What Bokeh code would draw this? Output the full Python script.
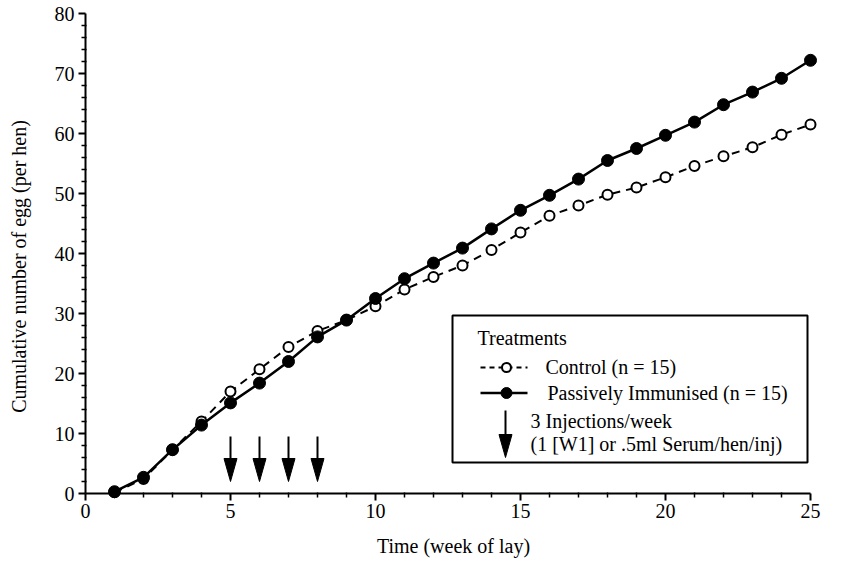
import math
from bokeh.plotting import figure
from bokeh.models import Range1d, BoxAnnotation
from bokeh.core.properties import value
from bokeh.embed import file_html
from bokeh.resources import INLINE

# ---------------- data ----------------
weeks = list(range(1, 26))
control = [0.2, 2.4, 7.3, 12.0, 17.0, 20.7, 24.4, 27.1, 28.9, 31.2, 34.0, 36.1, 38.0,
           40.6, 43.5, 46.3, 48.0, 49.8, 51.0, 52.7, 54.6, 56.2, 57.7, 59.8, 61.5]
immunised = [0.3, 2.7, 7.3, 11.4, 15.1, 18.4, 22.0, 26.1, 28.9, 32.5, 35.8, 38.4, 40.9,
             44.1, 47.2, 49.7, 52.4, 55.5, 57.5, 59.7, 61.9, 64.8, 66.9, 69.2, 72.2]
injection_weeks = [5, 6, 7, 8]
x_ticks = [0, 5, 10, 15, 20, 25]
y_ticks = [0, 10, 20, 30, 40, 50, 60, 70, 80]
x_minor = [w for w in range(0, 26) if w not in x_ticks]
y_minor = [v for v in range(0, 81, 2) if v not in y_ticks]
x_tick_labels = [str(t) for t in x_ticks]
y_tick_labels = [str(t) for t in y_ticks]

x_title = "Time (week of lay)"
y_title = "Cumulative number of egg (per hen)"
legend_title = "Treatments"
control_label = "Control (n = 15)"
immunised_label = "Passively Immunised (n = 15)"
inj_line1 = "3 Injections/week"
inj_line2 = "(1 [W1] or .5ml Serum/hen/inj)"

FONT = value("Liberation Serif")
FS = value("20px")

W, H = 843, 561
ORIGIN_X, ORIGIN_Y = 85, 493          # pixel position of the (0, 0) corner
PX_X = (810 - ORIGIN_X) / 25.0        # pixels per week
PX_Y = (ORIGIN_Y - 13) / 80.0         # pixels per egg

p = figure(width=W, height=H, output_backend="svg", toolbar_location=None,
           x_range=Range1d(-ORIGIN_X / PX_X, (W - ORIGIN_X) / PX_X),
           y_range=Range1d(-(H - ORIGIN_Y) / PX_Y, ORIGIN_Y / PX_Y),
           min_border=0)
p.axis.visible = False
p.grid.visible = False
p.outline_line_color = None
p.background_fill_color = "white"
p.border_fill_color = "white"

dx = 1.0 / PX_X   # one pixel in week units
dy = 1.0 / PX_Y   # one pixel in egg units


def X(px):  # layout pixel -> data x
    return (px - ORIGIN_X) / PX_X


def Y(py):  # layout pixel -> data y
    return (ORIGIN_Y - py) / PX_Y


# ---------------- axes drawn by hand ----------------
x_lo, x_hi = x_ticks[0], x_ticks[-1]
y_lo, y_hi = y_ticks[0], y_ticks[-1]
p.segment(x0=[x_lo, x_lo], y0=[y_lo, y_lo], x1=[x_hi, x_lo], y1=[y_lo, y_hi],
          line_color="black", line_width=2)
p.segment(x0=x_ticks, y0=[y_lo] * len(x_ticks), x1=x_ticks, y1=[y_lo - 7 * dy] * len(x_ticks),
          line_color="black", line_width=2)
p.segment(x0=x_minor, y0=[y_lo + 1 * dy] * len(x_minor), x1=x_minor,
          y1=[y_lo - 4 * dy] * len(x_minor), line_color="black", line_width=1.5)
p.segment(x0=[x_lo] * len(y_ticks), y0=y_ticks, x1=[x_lo - 7 * dx] * len(y_ticks), y1=y_ticks,
          line_color="black", line_width=2)
p.segment(x0=[x_lo + 1 * dx] * len(y_minor), y0=y_minor, x1=[x_lo - 4 * dx] * len(y_minor),
          y1=y_minor, line_color="black", line_width=1.5)
p.text(x=x_ticks, y=[y_lo - 10 * dy] * len(x_ticks), text=x_tick_labels,
       text_font=FONT, text_font_size=FS, text_align="center", text_baseline="top",
       text_color="black")
p.text(x=[x_lo - 11 * dx] * len(y_ticks), y=y_ticks, text=y_tick_labels,
       text_font=FONT, text_font_size=FS, text_align="right", text_baseline="middle",
       text_color="black")
p.text(x=[X(453)], y=[Y(545)], text=[x_title],
       text_font=FONT, text_font_size=FS, text_align="center", text_baseline="middle",
       text_color="black")
p.text(x=[X(18)], y=[Y(266)], text=[y_title], angle=math.pi / 2,
       text_font=FONT, text_font_size=FS, text_align="center", text_baseline="middle",
       text_color="black")

# ---------------- series ----------------
p.line(weeks, control, line_color="black", line_width=2, line_dash="8 6")
p.scatter(weeks, control, size=10, marker="circle", fill_color="white",
          line_color="black", line_width=2)
p.line(weeks, immunised, line_color="black", line_width=2.5)
p.scatter(weeks, immunised, size=12, marker="circle", fill_color="black",
          line_color="black")

# ---------------- injection arrows ----------------
arrow_top, arrow_tip = 9.5, 2.0
head_len, head_half = 23 * dy, 6.5 * dx
n_inj = len(injection_weeks)
p.segment(x0=injection_weeks, y0=[arrow_top] * n_inj,
          x1=injection_weeks, y1=[arrow_tip + head_len] * n_inj,
          line_color="black", line_width=2)
p.patches(xs=[[w - head_half, w + head_half, w] for w in injection_weeks],
          ys=[[arrow_tip + head_len, arrow_tip + head_len, arrow_tip] for _ in injection_weeks],
          fill_color="black", line_color="black", line_width=1)

# ---------------- legend (manual) ----------------
box = BoxAnnotation(left=X(452), right=X(807), top=Y(315), bottom=Y(462),
                    fill_alpha=0, line_color="black", line_alpha=1, line_width=2)
p.add_layout(box)


def lab(x, y, t):
    p.text(x=[x], y=[y], text=[t], text_font=FONT, text_font_size=FS,
           text_baseline="middle", text_align="left", text_color="black")


lab(X(477), Y(337), legend_title)
ly_c = Y(367)
p.line([X(480), X(527)], [ly_c, ly_c], line_color="black", line_width=2, line_dash="5 4")
p.scatter([X(506)], [ly_c], size=9, marker="circle", fill_color="white",
          line_color="black", line_width=2)
lab(X(545), Y(366), control_label)
ly_i = Y(392.5)
p.line([X(480), X(527)], [ly_i, ly_i], line_color="black", line_width=2.5)
p.scatter([X(506)], [ly_i], size=11, marker="circle", fill_color="black", line_color="black")
lab(X(547), ly_i, immunised_label)
ax_l, a_top, a_tip = X(505), Y(410), Y(457)
p.segment(x0=[ax_l], y0=[a_top], x1=[ax_l], y1=[a_tip + head_len],
          line_color="black", line_width=2)
p.patches(xs=[[ax_l - head_half, ax_l + head_half, ax_l]],
          ys=[[a_tip + head_len, a_tip + head_len, a_tip]],
          fill_color="black", line_color="black", line_width=1)
lab(X(530), Y(420), inj_line1)
lab(X(530), Y(443.5), inj_line2)

open("out.html", "w").write(file_html(p, INLINE))
